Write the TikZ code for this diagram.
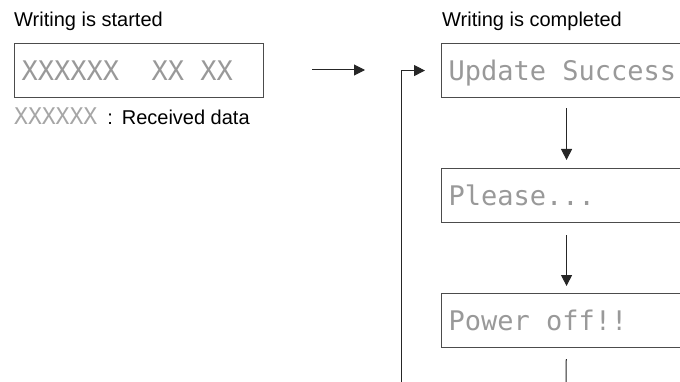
\documentclass[tikz,border=0pt]{standalone}
\usepackage{fontspec}
\setmainfont{Liberation Sans}
\newfontfamily\lcdfont{DejaVu Sans Mono}
\usetikzlibrary{arrows.meta}

\newcommand{\cell}{\phantom{X}}

\begin{document}
\begin{tikzpicture}[x=1pt,y=-1pt,
  lcdbox/.style={draw=black!70, line width=1.1pt, anchor=north west,
    minimum height=54pt, inner xsep=7pt, inner ysep=0pt, align=left,
    text height=20pt, text depth=0pt, text=black!40,
    font=\lcdfont\fontsize{27}{27}\selectfont},
  heading/.style={anchor=base west, inner sep=0pt, font=\fontsize{20}{20}\selectfont},
  flow/.style={draw=black!85, line width=1pt, -{Triangle[length=11pt,width=11pt]}}]

\clip (0,0) rectangle (680,382);

\node [heading] (started) at (14,27) {Writing is started};
\node [heading] (completed) at (442,27) {Writing is completed};

\node [lcdbox, text width=235pt] (data) at (14,43) {XXXXXX\cell\cell XX\cell XX};
\node [anchor=west, inner sep=0pt, font=\fontsize{20}{20}\selectfont] (legend) at (14,116)
  {{\lcdfont\fontsize{23}{23}\selectfont\color{black!35}XXXXXX}\hspace{10pt}:\hspace{9pt}Received data};

\node [lcdbox, text width=236pt] (upd) at (441,43) {Update\cell Success};
\node [lcdbox, text width=236pt] (plz) at (441,168) {Please...};
\node [lcdbox, text width=236pt] (off) at (441,293) {Power\cell off!!};

\coordinate (go1) at (312,70);
\coordinate (go2) at (365,70);
\coordinate (tail) at (566,392);
\coordinate (loop) at (401,392);

\draw [flow] (go1) -- (go2);
\draw [flow, shorten <=10pt, shorten >=8pt] (upd) -- (plz);
\draw [flow, shorten <=12pt, shorten >=7pt] (plz) -- (off);
\draw [flow, -, shorten <=11pt] (off) -- (tail);
\draw [flow, shorten >=16pt] (loop) |- (upd.west);

\end{tikzpicture}
\end{document}
